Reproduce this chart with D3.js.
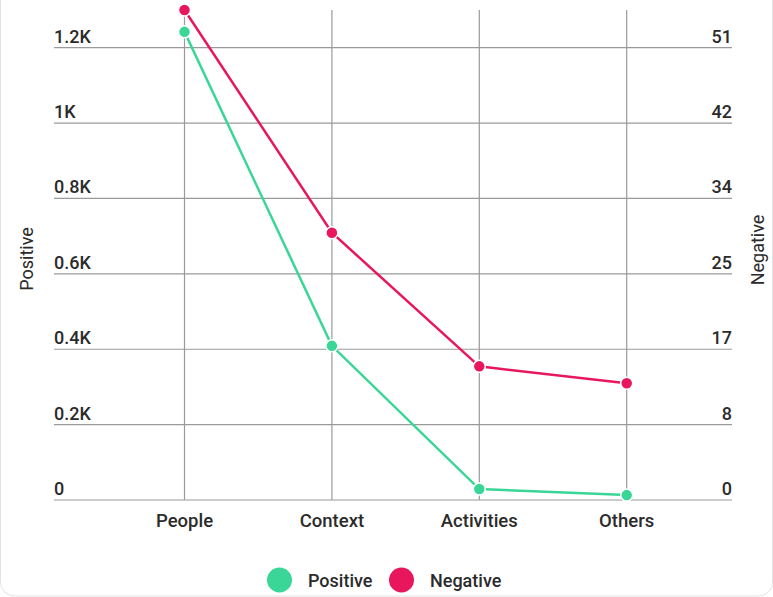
<!DOCTYPE html>
<html>
<head>
<meta charset="utf-8">
<script src="https://cdn.jsdelivr.net/npm/d3@7/dist/d3.min.js"></script>
<style>
  html, body { margin: 0; padding: 0; background: #fff; }
  svg { display: block; font-family: Roboto, "Noto Sans", sans-serif; }
</style>
</head>
<body>
<svg id="chart" width="773" height="597"></svg>
<script>
const categories = ["People", "Context", "Activities", "Others"];
const positiveValues = [1242, 409, 29, 13];
const negativeValues = [55, 30, 15, 13.1];
const leftTicks = [0, 200, 400, 600, 800, 1000, 1200];
const leftTickLabels = ["0", "0.2K", "0.4K", "0.6K", "0.8K", "1K", "1.2K"];
const rightTickLabels = ["0", "8", "17", "25", "34", "42", "51"];
const seriesNames = ["Positive", "Negative"];
const seriesColors = ["#3ad697", "#e8175d"];

(function () {
const svg = d3.select("#chart");
const textColor = "#2b2b2b";

// card border
svg.append("rect")
  .attr("x", 0.5).attr("y", -30).attr("width", 772).attr("height", 626)
  .attr("rx", 14).attr("fill", "none").attr("stroke", "#e2e2e2");

const gridLeft = 54, gridRight = 732, plotTop = 10, plotBottom = 500;

const x = d3.scalePoint().domain(categories).range([184.5, 626.7]);
const yL = d3.scaleLinear().domain([0, 1300]).range([plotBottom, plotTop]);
const yR = d3.scaleLinear().domain([0, 55]).range([plotBottom, plotTop]);

// horizontal gridlines
svg.append("g").selectAll("line").data(leftTicks).join("line")
  .attr("x1", gridLeft).attr("x2", gridRight)
  .attr("y1", d => yL(d)).attr("y2", d => yL(d))
  .attr("stroke", "#9a9a9a").attr("stroke-width", 1.2);

// vertical gridlines
svg.append("g").selectAll("line").data(categories).join("line")
  .attr("x1", d => x(d)).attr("x2", d => x(d))
  .attr("y1", plotTop).attr("y2", plotBottom)
  .attr("stroke", "#9a9a9a").attr("stroke-width", 1.2);

// left tick labels
svg.append("g").selectAll("text").data(leftTicks).join("text")
  .attr("x", gridLeft).attr("y", d => yL(d) - 5)
  .attr("font-size", 18).attr("font-weight", 500).attr("fill", textColor)
  .text((d, i) => leftTickLabels[i]);

// right tick labels
svg.append("g").selectAll("text").data(leftTicks).join("text")
  .attr("x", gridRight).attr("y", d => yL(d) - 5)
  .attr("text-anchor", "end")
  .attr("font-size", 18).attr("font-weight", 500).attr("fill", textColor)
  .text((d, i) => rightTickLabels[i]);

// category labels
svg.append("g").selectAll("text").data(categories).join("text")
  .attr("x", d => x(d)).attr("y", 527)
  .attr("text-anchor", "middle")
  .attr("font-size", 18.5).attr("font-weight", 500).attr("fill", textColor)
  .text(d => d);

// axis titles
svg.append("text")
  .attr("transform", "translate(33,259) rotate(-90)")
  .attr("text-anchor", "middle")
  .attr("font-size", 18).attr("fill", textColor)
  .text("Positive");
svg.append("text")
  .attr("transform", "translate(764,250) rotate(-90)")
  .attr("text-anchor", "middle")
  .attr("font-size", 18).attr("fill", textColor)
  .text("Negative");

const series = [
  { name: seriesNames[0], values: positiveValues, y: yL, color: seriesColors[0] },
  { name: seriesNames[1], values: negativeValues, y: yR, color: seriesColors[1] }
];

series.forEach(s => {
  const line = d3.line()
    .x((d, i) => x(categories[i]))
    .y(d => s.y(d));
  svg.append("path")
    .datum(s.values)
    .attr("d", line)
    .attr("fill", "none")
    .attr("stroke", s.color)
    .attr("stroke-width", 2.5);
  svg.append("g").selectAll("circle").data(s.values).join("circle")
    .attr("cx", (d, i) => x(categories[i]))
    .attr("cy", d => s.y(d))
    .attr("r", 6)
    .attr("fill", s.color)
    .attr("stroke", "#fff").attr("stroke-width", 1.5);
});

// legend
const legendItems = [
  { name: seriesNames[0], color: seriesColors[0], cx: 279.5, tx: 308 },
  { name: seriesNames[1], color: seriesColors[1], cx: 401.5, tx: 430 }
];
const lg = svg.append("g");
legendItems.forEach(it => {
  lg.append("circle").attr("cx", it.cx).attr("cy", 580).attr("r", 12.5).attr("fill", it.color);
  lg.append("text").attr("x", it.tx).attr("y", 587)
    .attr("font-size", 18).attr("font-weight", 500).attr("fill", textColor)
    .text(it.name);
});
})();
</script>
</body>
</html>
